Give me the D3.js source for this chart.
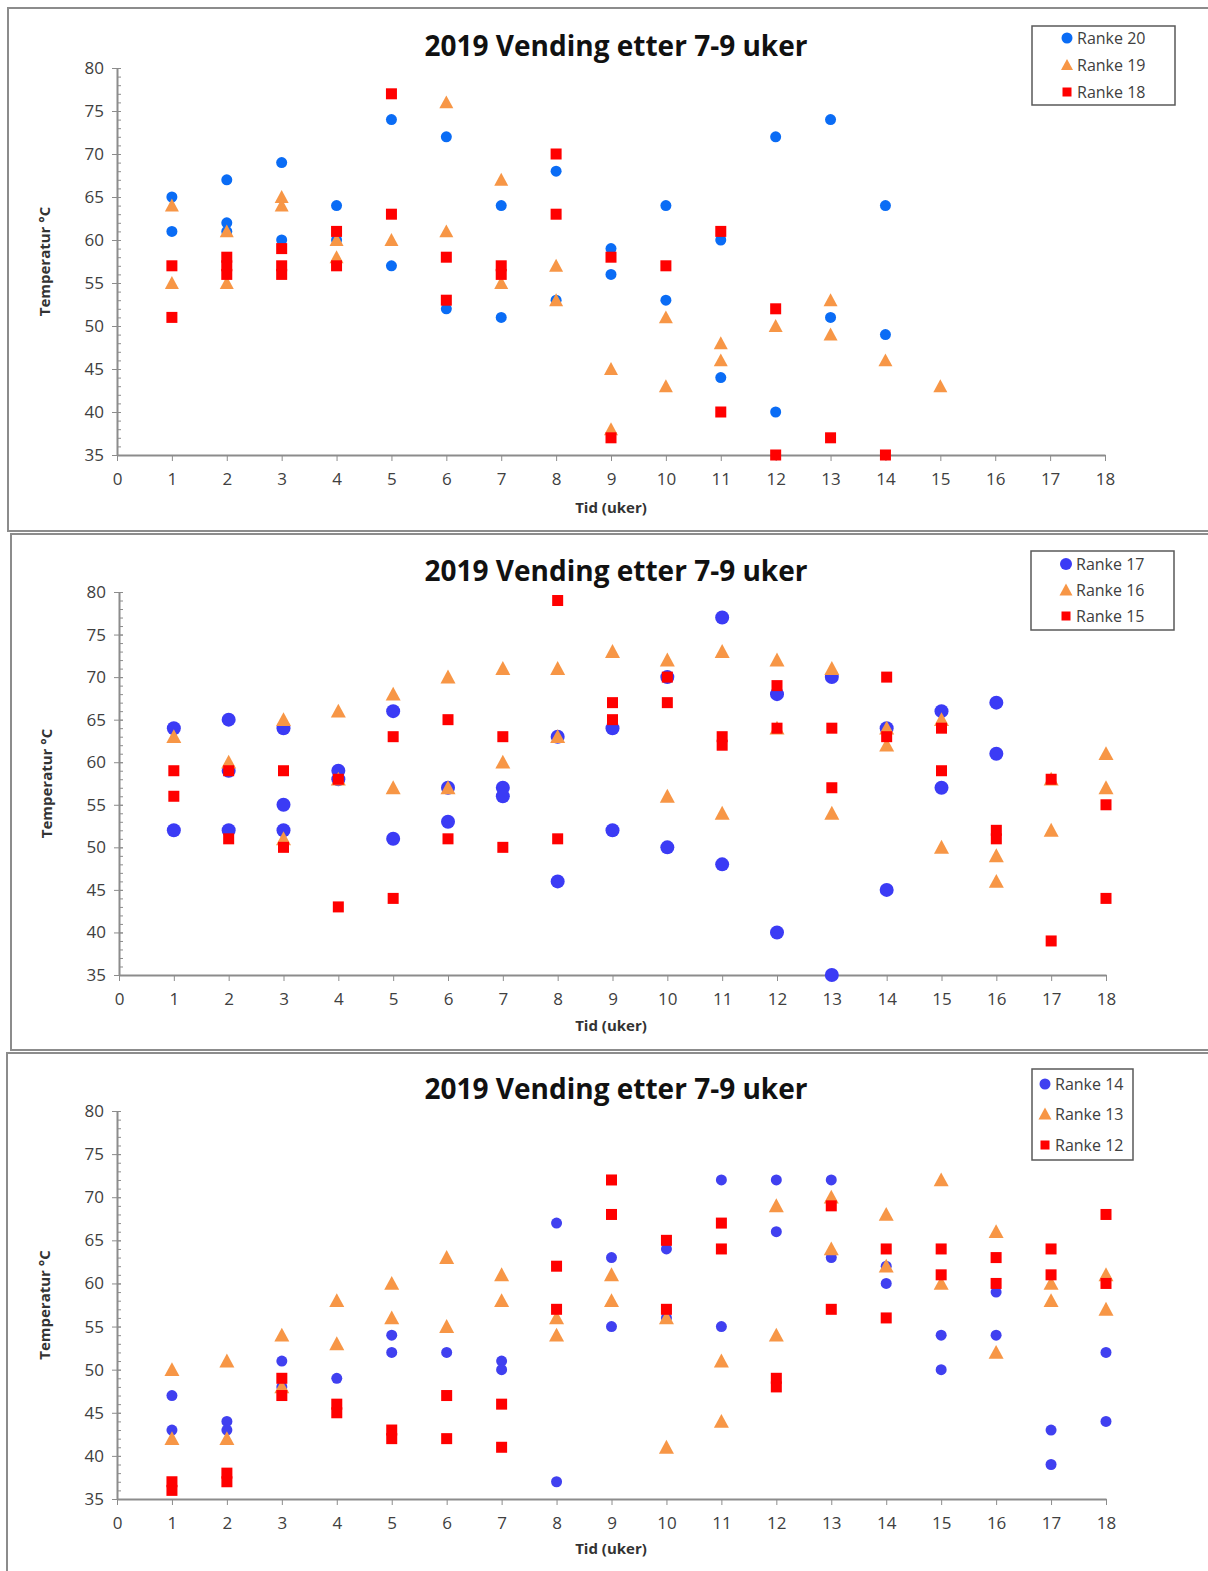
<!DOCTYPE html>
<html>
<head>
<meta charset="utf-8">
<script src="https://cdn.jsdelivr.net/npm/d3@7"></script>
<style>
body { margin: 0; background: #fff; }
svg { display: block; font-family: "Open Sans", sans-serif; }
</style>
</head>
<body>
<div id="chart"></div>
<script>
// values per week (index 0 = week 1), several readings per week
var ranke20 = [[65,61],[67,62,61],[69,60],[64,60],[74,57],[72,52],[64,51],[68,53],[59,56],[64,53],[60,44],[72,40],[74,51],[64,49]];
var ranke19 = [[64,55],[61,55],[65,64],[60,58],[60],[76,61],[67,55],[57,53],[45,38],[51,43],[48,46],[50],[53,49],[46],[43]];
var ranke18 = [[57,51],[58,57,56],[59,57,56],[61,57],[77,63],[58,53],[57,56],[70,63],[58,37],[57],[61,40],[52,35],[37],[35]];

var ranke17 = [[64,52],[65,59,52],[64,55,52],[59,58],[66,51],[57,53],[57,56],[63,46],[64,52],[70,50],[77,48],[68,40],[70,35],[64,45],[66,57],[67,61]];
var ranke16 = [[63],[60],[65,51],[66,58],[68,57],[70,57],[71,60],[71,63],[73],[72,56],[73,54],[72,64],[71,54],[64,62],[65,50],[49,46],[52,58],[61,57]];
var ranke15 = [[59,56],[59,51],[59,50],[58,43],[63,44],[65,51],[63,50],[79,51],[67,65],[70,67],[63,62],[69,64],[64,57],[70,63],[64,59],[52,51],[58,39],[55,44]];

var ranke14 = [[47,43],[44,43],[51,48],[49],[54,52],[52],[51,50],[67,37],[63,55],[64,56],[72,55],[72,66],[72,63],[62,60],[54,50],[59,54],[43,39],[52,44]];
var ranke13 = [[50,42],[51,42],[54,48],[58,53],[60,56],[63,55],[61,58],[56,54],[61,58],[56,41],[51,44],[69,54],[70,64],[68,62],[72,60],[66,52],[60,58],[61,57]];
var ranke12 = [[37,36],[38,37],[49,47],[46,45],[43,42],[47,42],[46,41],[62,57],[72,68],[65,57],[67,64],[49,48],[69,57],[64,56],[64,61],[63,60],[64,61],[68,60]];

var xTicks = d3.range(0, 19);
var yTicks = [35, 40, 45, 50, 55, 60, 65, 70, 75, 80];
var title = "2019 Vending etter 7-9 uker";

var W = 1208, H = 1571;
var svg = d3.select("#chart").append("svg").attr("width", W).attr("height", H);

var panels = [
    { top: 8, bottom: 531, left: 8, x0: 117, x1: 1105, y0: 455, y1: 68, titleY: 56, ylabX: 50, xlabY: 513,
      leg: { x: 1032, y: 26, w: 143, h: 79, rows: [38, 65, 92] },
      series: [
        { name: "Ranke 20", data: ranke20, shape: "circle", color: "#0a6cf5", size: 5.5 },
        { name: "Ranke 19", data: ranke19, shape: "triangle", color: "#f79646", size: 7 },
        { name: "Ranke 18", data: ranke18, shape: "square", color: "#ff0000", size: 5.5 }
      ] },
    { top: 534, bottom: 1050, left: 11, x0: 119, x1: 1106, y0: 975, y1: 592, titleY: 581, ylabX: 52, xlabY: 1031,
      leg: { x: 1031, y: 551, w: 143, h: 79, rows: [564, 590, 616] },
      series: [
        { name: "Ranke 17", data: ranke17, shape: "circle", color: "#3b3bf5", size: 7 },
        { name: "Ranke 16", data: ranke16, shape: "triangle", color: "#f79646", size: 7.5 },
        { name: "Ranke 15", data: ranke15, shape: "square", color: "#ff0000", size: 5.5 }
      ] },
    { top: 1053, bottom: 1575, left: 7, x0: 117, x1: 1106, y0: 1499, y1: 1111, titleY: 1099, ylabX: 50, xlabY: 1554,
      leg: { x: 1032, y: 1069, w: 101, h: 91, rows: [1084, 1114, 1145] },
      series: [
        { name: "Ranke 14", data: ranke14, shape: "circle", color: "#4040f0", size: 5.5 },
        { name: "Ranke 13", data: ranke13, shape: "triangle", color: "#f79646", size: 7.5 },
        { name: "Ranke 12", data: ranke12, shape: "square", color: "#ff0000", size: 5.5 }
      ] }
];

function drawMark(g, shape, color, size, cx, cy) {
    if (shape == "circle") {
        g.append("circle").attr("cx", cx).attr("cy", cy).attr("r", size).attr("fill", color);
    } else if (shape == "square") {
        g.append("rect").attr("x", cx - size).attr("y", cy - size)
            .attr("width", size * 2).attr("height", size * 2).attr("fill", color);
    } else {
        var s = size;
        g.append("path").attr("d", "M" + cx + "," + (cy - s) + "L" + (cx + s) + "," + (cy + s * 0.85) +
            "L" + (cx - s) + "," + (cy + s * 0.85) + "Z").attr("fill", color);
    }
}

panels.forEach(function (p) {
    var g = svg.append("g");
    // panel frame
    g.append("rect").attr("x", p.left).attr("y", p.top)
        .attr("width", W + 10 - p.left).attr("height", p.bottom - p.top)
        .attr("fill", "#fff").attr("stroke", "#8c8c8c").attr("stroke-width", 2);

    var x = d3.scaleLinear().domain([0, 18]).range([p.x0, p.x1]);
    var y = d3.scaleLinear().domain([35, 80]).range([p.y0, p.y1]);

    // minor y ticks (inside)
    g.append("g").attr("transform", "translate(" + p.x0 + ",0)")
        .call(d3.axisRight(y).tickValues(d3.range(35, 81)).tickSize(4).tickFormat(""))
        .call(function (a) { a.select(".domain").remove(); a.selectAll("line").attr("stroke", "#8c8c8c"); });

    // major y axis
    var ya = g.append("g").attr("transform", "translate(" + p.x0 + ",0)")
        .call(d3.axisLeft(y).tickValues(yTicks).tickSize(5).tickPadding(8).tickSizeOuter(0));
    ya.selectAll("line").attr("x2", -5).attr("x1", 4);
    ya.select(".domain").attr("stroke", "#8c8c8c").attr("stroke-width", 2);
    ya.selectAll("line").attr("stroke", "#8c8c8c");
    ya.selectAll("text").attr("font-size", 17).attr("fill", "#404040").attr("font-family", "Open Sans");

    // x axis
    var xa = g.append("g").attr("transform", "translate(0," + p.y0 + ")")
        .call(d3.axisBottom(x).tickValues(xTicks).tickSize(6).tickPadding(12).tickSizeOuter(0));
    xa.select(".domain").attr("stroke", "#8c8c8c").attr("stroke-width", 2);
    xa.selectAll("line").attr("stroke", "#8c8c8c");
    xa.selectAll("text").attr("font-size", 17).attr("fill", "#404040").attr("font-family", "Open Sans");

    // title and axis labels
    g.append("text").attr("x", 616).attr("y", p.titleY).attr("text-anchor", "middle")
        .attr("font-size", 28).attr("font-weight", "bold").attr("fill", "#111").text(title);
    g.append("text").attr("transform", "translate(" + p.ylabX + "," + ((p.y0 + p.y1) / 2) + ") rotate(-90)")
        .attr("text-anchor", "middle").attr("font-size", 15).attr("font-weight", "bold").attr("fill", "#333")
        .text("Temperatur °C");
    g.append("text").attr("x", 611).attr("y", p.xlabY).attr("text-anchor", "middle")
        .attr("font-size", 15).attr("font-weight", "bold").attr("fill", "#333").text("Tid (uker)");

    // points
    var pts = g.append("g");
    p.series.forEach(function (s) {
        s.data.forEach(function (vals, i) {
            vals.forEach(function (v) {
                drawMark(pts, s.shape, s.color, s.size, x(i + 1), y(v));
            });
        });
    });

    // legend
    var lg = g.append("g");
    lg.append("rect").attr("x", p.leg.x).attr("y", p.leg.y).attr("width", p.leg.w).attr("height", p.leg.h)
        .attr("fill", "#fff").attr("stroke", "#595959").attr("stroke-width", 1.5);
    p.series.forEach(function (s, k) {
        var ry = p.leg.rows[k];
        var mx = p.leg.x + (p.leg.w > 120 ? 35 : 13);
        drawMark(lg, s.shape, s.color, s.shape == "circle" ? Math.min(s.size, 6) : s.size - 1, mx, ry);
        lg.append("text").attr("x", mx + 10).attr("y", ry + 6).attr("font-size", 16)
            .attr("fill", "#404040").text(s.name);
    });
});
</script>
</body>
</html>
